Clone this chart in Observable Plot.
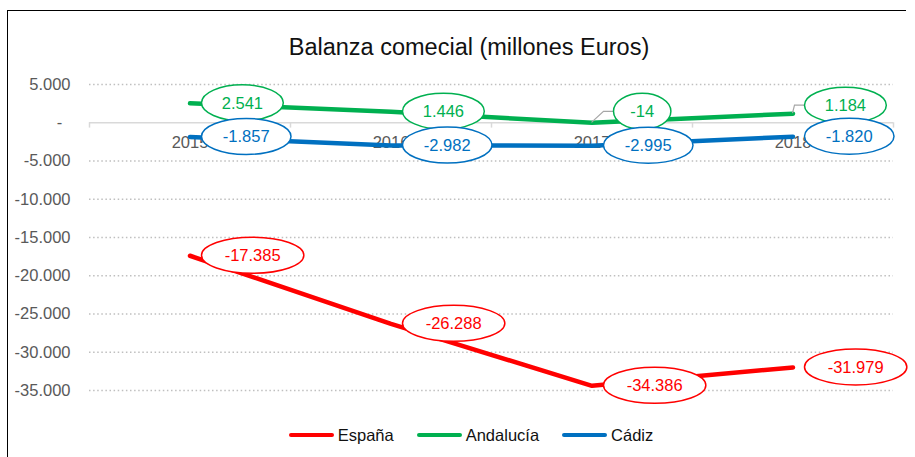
<!DOCTYPE html>
<html>
<head>
<meta charset="utf-8">
<script src="https://cdn.jsdelivr.net/npm/d3@7"></script>
<script src="https://cdn.jsdelivr.net/npm/@observablehq/plot@0.6"></script>
<style>
  body { margin: 0; background: #fff; font-family: "Liberation Sans", Arial, sans-serif; }
  #wrap { position: relative; width: 915px; height: 457px; overflow: hidden; background: #fff; }
  #frame { position: absolute; left: 7px; top: 10px; width: 898px; height: 470px;
           border-top: 1px solid #000; border-left: 1px solid #000; pointer-events: none; }
  #title { position: relative; box-sizing: border-box; width: 915px; height: 62px;
           padding-top: 33px; padding-left: 23px; text-align: center;
           font-size: 23.5px; line-height: 28px; color: #111; white-space: nowrap; }
  #chart { position: relative; height: 348px; }
  #chart svg { overflow: visible; }
  #legend { position: relative; box-sizing: border-box; width: 915px; height: 47px;
            padding-top: 15px; padding-left: 27px; display: flex; justify-content: center;
            align-items: flex-start; font-size: 16.5px; line-height: 20px; color: #111; }
  .item { display: flex; align-items: center; height: 20px; margin: 0 11.5px; }
  .swatch { display: inline-block; width: 45px; height: 4.5px; border-radius: 3px; margin-right: 4px; }
</style>
</head>
<body>
<div id="wrap">
  <div id="frame"></div>
  <div id="title"></div>
  <div id="chart"></div>
  <div id="legend"></div>
</div>
<script>
// ---- data ----
const titleText = "Balanza comecial (millones Euros)";
const years = [2015, 2016, 2017, 2018];
const seriesNames = ["España", "Andalucía", "Cádiz"];
const espana = [-17385, -26288, -34386, -31979];
const andalucia = [2541, 1446, -14, 1184];
const cadiz = [-1857, -2982, -2995, -1820];
const yTicks = [5000, 0, -5000, -10000, -15000, -20000, -25000, -30000, -35000];
const seriesColors = ["#FF0000", "#00B050", "#0070C0"];

// ---- setup ----
const FONT = '"Liberation Sans", Arial, sans-serif';
const FS = 16.5;
const locale = d3.formatLocale({decimal: ",", thousands: ".", grouping: [3], currency: ["", " €"], minus: "-"});
const fmt = locale.format(",d");
const tickFmt = v => v === 0 ? "-\u2002" : fmt(v);

const valuesBySeries = [espana, andalucia, cadiz];
const rows = [];
seriesNames.forEach((s, i) => years.forEach((yr, j) => rows.push({series: s, year: yr, value: valuesBySeries[i][j], label: fmt(valuesBySeries[i][j])})));
const colorOf = Object.fromEntries(seriesNames.map((s, i) => [s, seriesColors[i]]));
const boundaries = years.map(y => y - 0.5).concat([years[years.length - 1] + 0.5]);

// manually moved callouts (as in the original chart)
const nudge = {"Andalucía-2017": [10, -11], "Andalucía-2018": [0, -8]};

document.getElementById("title").textContent = titleText;

function calloutMark(data) {
  return (index, scales) => {
    const g = d3.create("svg:g");
    const ctx = document.createElement("canvas").getContext("2d");
    ctx.font = `${FS}px ${FONT}`;
    for (const r of data) {
      const px = scales.x(r.year), py = scales.y(r.value);
      const [sx, sy] = nudge[r.series + "-" + r.year] || [0, 0];
      const tw = ctx.measureText(r.label).width;
      const rx = 0.7 * tw + 12, ry = 18;
      const left = px + 12 + sx, cy = py + sy, cx = left + rx;
      const col = colorOf[r.series];
      if (sy) {
        g.append("path")
          .attr("d", `M${px},${py}L${left - 10},${cy}L${left},${cy}`)
          .attr("fill", "none").attr("stroke", "#A6A6A6").attr("stroke-width", 1.2);
      }
      g.append("ellipse")
        .attr("cx", cx).attr("cy", cy).attr("rx", rx).attr("ry", ry)
        .attr("fill", "#fff").attr("stroke", col).attr("stroke-width", 1.5);
      g.append("text")
        .attr("x", cx).attr("y", cy).attr("dy", "0.35em")
        .attr("text-anchor", "middle")
        .attr("font-family", FONT).attr("font-size", FS)
        .attr("fill", col)
        .text(r.label);
    }
    return g.node();
  };
}

const chart = Plot.plot({
  width: 915,
  height: 348,
  marginTop: 22,
  marginBottom: 20,
  marginLeft: 89,
  marginRight: 22,
  style: {fontFamily: FONT, fontSize: FS + "px", color: "#595959", background: "transparent", overflow: "visible"},
  x: {domain: [boundaries[0], boundaries[boundaries.length - 1]], axis: null},
  y: {domain: [yTicks[yTicks.length - 1], yTicks[0]], ticks: yTicks, tickFormat: tickFmt, tickSize: 0, tickPadding: 19, label: null},
  color: {domain: seriesNames, range: seriesColors},
  marks: [
    Plot.ruleY(yTicks.filter(v => v !== 0), {stroke: "#BFBFBF", strokeWidth: 1.3, strokeDasharray: "1.5,2.6"}),
    Plot.ruleY([0], {stroke: "#D9D9D9", strokeWidth: 1.5}),
    Plot.ruleX(boundaries, {y1: 0, y2: -700, stroke: "#D9D9D9", strokeWidth: 1.5}),
    Plot.text(years, {x: d => d, y: 0, dy: 20, text: d => String(d), fill: "#595959", fontSize: FS, fontFamily: FONT}),
    Plot.line(rows, {x: "year", y: "value", z: "series", stroke: "series", strokeWidth: 4.5, strokeLinecap: "round", strokeLinejoin: "round"}),
    calloutMark(rows)
  ]
});
document.getElementById("chart").appendChild(chart);

// legend
const legend = d3.select("#legend");
seriesNames.forEach((s, i) => {
  const it = legend.append("div").attr("class", "item");
  it.append("span").attr("class", "swatch").style("background", seriesColors[i]);
  it.append("span").text(s);
});
</script>
</body>
</html>
